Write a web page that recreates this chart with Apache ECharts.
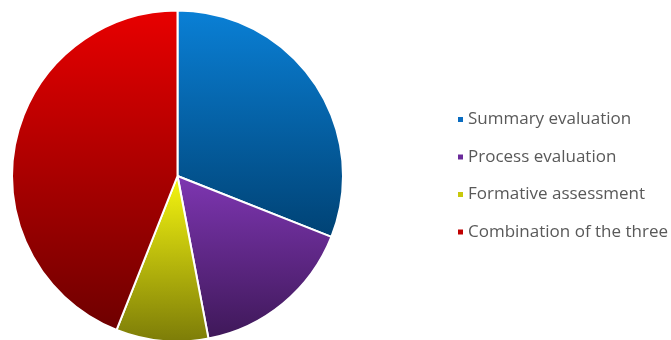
<!DOCTYPE html>
<html><head><meta charset="utf-8">
<script src="https://cdn.jsdelivr.net/npm/echarts@6/dist/echarts.min.js"></script>
<style>html,body{margin:0;padding:0;background:#fff}#c{width:671px;height:340px}</style>
</head><body><div id="c"></div>
<script>
const categories = ['Summary evaluation', 'Process evaluation', 'Formative assessment', 'Combination of the three'];
const values = [31, 16, 9, 44];
const topColors = ['#0a80d6', '#7e36b2', '#f7f710', '#e80000'];
const bottomColors = ['#004274', '#3e1858', '#7c7c08', '#6e0000'];
const legendColors = ['#0a6cc0', '#6a2a9a', '#c8c80c', '#c00000'];

const chart = echarts.init(document.getElementById('c'));
chart.setOption({
  animation: false,
  legend: {
    orient: 'vertical',
    left: 451,
    top: 106,
    itemWidth: 7,
    itemHeight: 7,
    itemGap: 20.5,
    icon: 'rect',
    textStyle: { color: '#595959', fontSize: 17, lineHeight: 16, fontFamily: 'Open Sans', padding: [0,0,0,-1] },
    data: categories.map((c, i) => ({ name: c, itemStyle: { color: legendColors[i] } }))
  },
  series: [{
    type: 'pie',
    center: [177.5, 176],
    radius: [0, 165.5],
    startAngle: 90,
    clockwise: true,
    label: { show: false },
    labelLine: { show: false },
    emphasis: { disabled: true },
    data: categories.map((c, i) => ({
      name: c,
      value: values[i],
      itemStyle: {
        borderColor: '#fff',
        borderWidth: 2,
        color: new echarts.graphic.LinearGradient(0, 0, 0, 1, [
          { offset: 0, color: topColors[i] },
          { offset: 1, color: bottomColors[i] }
        ])
      }
    }))
  }]
});
</script></body></html>
